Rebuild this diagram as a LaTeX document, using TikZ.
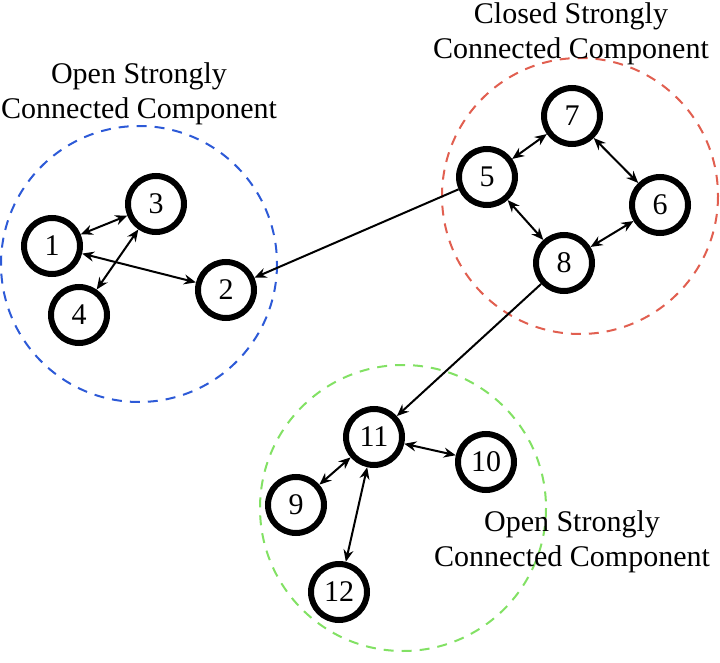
\documentclass[tikz,border=0pt]{standalone}
\usepackage{fontspec}
\setmainfont{Liberation Serif}
\usepackage{tikz}
\usetikzlibrary{arrows.meta}
\definecolor{sccblue}{RGB}{45,90,215}
\definecolor{sccred}{RGB}{225,95,80}
\definecolor{sccgreen}{RGB}{130,225,100}
\tikzstyle{vertex} = [circle, draw=black, line width=6pt, minimum size=56pt, inner sep=0pt, font=\fontsize{30}{35}\selectfont]
\tikzstyle{region} = [line width=2pt, dash pattern=on 10pt off 8pt]
\tikzstyle{caption} = [align=center, font=\fontsize{30}{35}\selectfont]
\tikzstyle{arrow} = [line width=2pt,-{Stealth[length=12pt,width=10pt,inset=4pt]}]
\tikzstyle{both} = [line width=2pt,{Stealth[length=12pt,width=10pt,inset=4pt]}-{Stealth[length=12pt,width=10pt,inset=4pt]}]

\begin{document}
\begin{tikzpicture}[x=1pt, y=-1pt]
    \useasboundingbox (0,0) rectangle (720,663);

    % dashed regions
    \draw [region, sccblue] (139,264) circle (138);
    \draw [region, sccred] (580,196) circle (138);
    \draw [region, sccgreen] (403,508) circle (143);

    \node (lblA) [caption] at (139,94) {Open Strongly\\Connected Component};
    \node (lblB) [caption] at (571,34) {Closed Strongly\\Connected Component};
    \node (lblC) [caption] at (572,542) {Open Strongly\\Connected Component};

    \node (1) [vertex] at (52,246) {1};
    \node (2) [vertex] at (226,290) {2};
    \node (3) [vertex] at (156,204) {3};
    \node (4) [vertex] at (79,315) {4};
    \node (5) [vertex] at (487,177) {5};
    \node (6) [vertex] at (660,205) {6};
    \node (7) [vertex] at (572,116) {7};
    \node (8) [vertex] at (564,263) {8};
    \node (9) [vertex] at (296,505) {9};
    \node (10) [vertex] at (486,462) {10};
    \node (11) [vertex] at (374,437) {11};
    \node (12) [vertex] at (339,592) {12};

    \draw [both] (1) -- (3);
    \draw [both] (1) -- (2);
    \draw [both] (3) -- (4);
    \draw [arrow] (5) -- (2);
    \draw [both] (5) -- (7);
    \draw [both] (7) -- (6);
    \draw [both] (5) -- (8);
    \draw [both] (8) -- (6);
    \draw [arrow] (8) -- (11);
    \draw [both] (11) -- (10);
    \draw [both] (11) -- (9);
    \draw [both] (11) -- (12);
  \end{tikzpicture}
\end{document}
